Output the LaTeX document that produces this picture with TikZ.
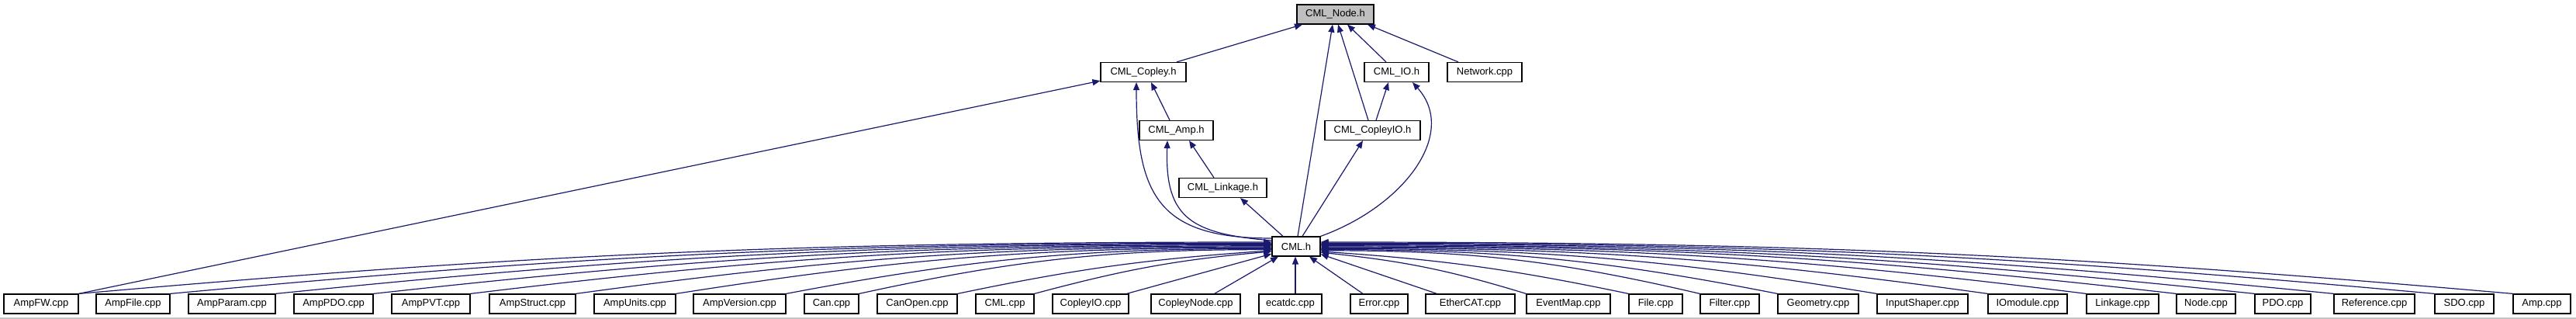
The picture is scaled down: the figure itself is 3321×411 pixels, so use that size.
\documentclass[tikz,border=0pt]{standalone}
\usepackage{fontspec}
\setmainfont{Liberation Sans}
\usetikzlibrary{arrows.meta}
\definecolor{edgeblue}{HTML}{191970}
\definecolor{rootgray}{HTML}{BFBFBF}
\begin{document}
\begin{tikzpicture}[x=1pt,y=1pt,
  box/.style={draw=black, line width=1.2pt, minimum height=25pt, inner xsep=1pt, inner ysep=0pt,
    font=\fontsize{13}{15}\selectfont, fill=white},
  edge/.style={draw=edgeblue, line width=1.2pt, -{Triangle[length=10pt,width=8pt]}}]
\useasboundingbox (0,0) rectangle (3321,411);
\fill[white] (0,0) rectangle (3321,411);
\fill[gray!45] (0,0) rectangle (3321,2);

% upper nodes
\node[box, minimum width=99pt, fill=rootgray] (cmlnode) at (1721.5,392.5) {CML\_Node.h};
\node[box, minimum width=110pt] (copley) at (1474,318) {CML\_Copley.h};
\node[box, minimum width=83pt] (io) at (1800.5,318) {CML\_IO.h};
\node[box, minimum width=96pt] (network) at (1914,318) {Network.cpp};
\node[box, minimum width=95pt] (amp) at (1516.5,243) {CML\_Amp.h};
\node[box, minimum width=123pt] (copleyio) at (1769.5,243) {CML\_CopleyIO.h};
\node[box, minimum width=113pt] (linkage) at (1576.5,169) {CML\_Linkage.h};
\node[box, minimum width=62pt] (cml) at (1671,93.5) {CML.h};

% bottom row
\foreach \nm/\lab/\xl/\xr in {
  bAmpFW/AmpFW.cpp/5/101, bAmpFile/AmpFile.cpp/124/219, bAmpParam/AmpParam.cpp/243/355,
  bAmpPDO/AmpPDO.cpp/379/481, bAmpPVT/AmpPVT.cpp/505/606, bAmpStruct/AmpStruct.cpp/631/742,
  bAmpUnits/AmpUnits.cpp/766/871, bAmpVersion/AmpVersion.cpp/894/1013, bCan/Can.cpp/1037/1107,
  bCanOpen/CanOpen.cpp/1131/1234, bCMLcpp/CML.cpp/1258/1333, bCopleyIO/CopleyIO.cpp/1357/1455,
  bCopleyNode/CopleyNode.cpp/1484/1599, bEcatdc/ecatdc.cpp/1623/1704, bError/Error.cpp/1741/1815,
  bEtherCAT/EtherCAT.cpp/1838/1953, bEventMap/EventMap.cpp/1968/2076, bFile/File.cpp/2100/2169,
  bFilter/Filter.cpp/2192/2268, bGeometry/Geometry.cpp/2292/2396, bInputShaper/InputShaper.cpp/2420/2537,
  bIOmodule/IOmodule.cpp/2563/2665, bLinkage/Linkage.cpp/2690/2783, bNodecpp/Node.cpp/2806/2882,
  bPDO/PDO.cpp/2907/2979, bReference/Reference.cpp/3009/3113, bSDO/SDO.cpp/3139/3215,
  bAmp/Amp.cpp/3240/3314}
  \node[box, minimum width={\xr-\xl}] (\nm) at ({(\xl+\xr)/2},19.5) {\lab};

% upper edges
\draw[edge] ([xshift=43pt]copley.north) -- ([xshift=-42.5pt]cmlnode.south);
\draw[edge] ([xshift=2pt]cml.north) -- ([xshift=-3.5pt]cmlnode.south);
\draw[edge] ([xshift=-5.5pt]copleyio.north) -- ([xshift=3.5pt]cmlnode.south);
\draw[edge] ([xshift=-13.5pt]io.north) -- ([xshift=15.5pt]cmlnode.south);
\draw[edge] ([xshift=-34pt]network.north) -- ([xshift=41.5pt]cmlnode.south);
\draw[edge] ([xshift=-8.5pt]amp.north) -- ([xshift=10pt]copley.south);
\draw[edge] ([yshift=10.5pt]cml.west) .. controls ([shift={(-146,10.5)}]cml.west) and ([shift={(-9,-146)}]copley.south) .. ([xshift=-9pt]copley.south);
\draw[edge] ([yshift=7.5pt]cml.west) .. controls ([shift={(-101.6,16.4)}]cml.west) and ([shift={(-15.1,-102)}]amp.south) .. ([xshift=-11.5pt]amp.south);
\draw[edge] (bAmpFW.north east) -- ([yshift=2pt]copley.south west);
\draw[edge] ([xshift=4.5pt]copleyio.north) -- ([xshift=-10.5pt]io.south);
\draw[edge] (cml.north east) .. controls ([shift={(108,39)}]cml.north east) and ([shift={(79.5,-65.5)}]io.south) .. ([xshift=20.5pt]io.south);
\draw[edge] ([xshift=-11.5pt]linkage.north) -- ([xshift=16.5pt]amp.south);
\draw[edge] ([xshift=8pt]cml.north) -- ([xshift=-12.5pt]copleyio.south);
\draw[edge] ([xshift=-17pt]cml.north) -- ([xshift=22.5pt]linkage.south);

% bottom fan, left side: name / head shift / dx / out / in
\foreach \nm/\hs/\dx/\o/\i in {bAmpFW/5.5/1539/5.0/180, bAmpFile/4.3/1421/5.3/180,
  bAmpParam/3.1/1285/5.8/180, bAmpPDO/1.9/1159/6.3/180, bAmpPVT/0.7/1034/6.9/180,
  bAmpStruct/-0.5/898/7.8/180, bAmpUnits/-1.7/769/8.9/180, bAmpVersion/-2.9/627/10.7/180,
  bCan/-4.1/533/12.3/180, bCanOpen/-5.3/410/11.8/184, bCMLcpp/-6.5/312/15/185}{
  \pgfmathsetmacro{\d}{0.39*\dx}
  \pgfmathsetmacro{\ax}{\d*cos(\o)}
  \pgfmathsetmacro{\ay}{\d*sin(\o)}
  \pgfmathsetmacro{\bx}{\d*cos(\i)}
  \pgfmathsetmacro{\by}{\d*sin(\i)+\hs}
  \draw[edge] (\nm.north east) .. controls ([shift={(\ax,\ay)}]\nm.north east) and ([shift={(\bx,\by)}]cml.west) .. ([yshift=\hs pt]cml.west);
}
\draw[edge] ([xshift=-3pt]bCopleyIO.north east) -- ([yshift=-9.5pt]cml.west);
\draw[edge] ([xshift=-34pt]bCopleyNode.north east) -- ([xshift=-23pt]cml.south);
\draw[edge] ([xshift=6.5pt]bEcatdc.north) -- ([xshift=-1pt]cml.south);
\draw[edge] ([xshift=-21pt]bError.north) -- ([xshift=17pt]cml.south);
\draw[edge] ([xshift=15pt]bEtherCAT.north west) -- ([yshift=-10pt]cml.east);

% bottom fan, right side
\foreach \nm/\hs/\dx/\o/\i in {bAmp/5.5/1538/175.0/0, bSDO/4.3/1437/174.8/0,
  bReference/3.1/1307/174.3/0, bPDO/1.9/1205/174.0/0, bNodecpp/0.7/1104/173.5/0,
  bLinkage/-0.5/988/172.9/0, bIOmodule/-1.7/861/172.1/0, bInputShaper/-2.9/718/170.7/0,
  bGeometry/-4.1/590/168.9/0, bFilter/-5.3/490/166.9/0, bFile/-6.5/402/168.2/-3.9,
  bEventMap/-7.7/271/163/-6}{
  \pgfmathsetmacro{\d}{0.39*\dx}
  \pgfmathsetmacro{\ax}{\d*cos(\o)}
  \pgfmathsetmacro{\ay}{\d*sin(\o)}
  \pgfmathsetmacro{\bx}{\d*cos(\i)}
  \pgfmathsetmacro{\by}{\d*sin(\i)+\hs}
  \draw[edge] (\nm.north west) .. controls ([shift={(\ax,\ay)}]\nm.north west) and ([shift={(\bx,\by)}]cml.east) .. ([yshift=\hs pt]cml.east);
}
\end{tikzpicture}
\end{document}
